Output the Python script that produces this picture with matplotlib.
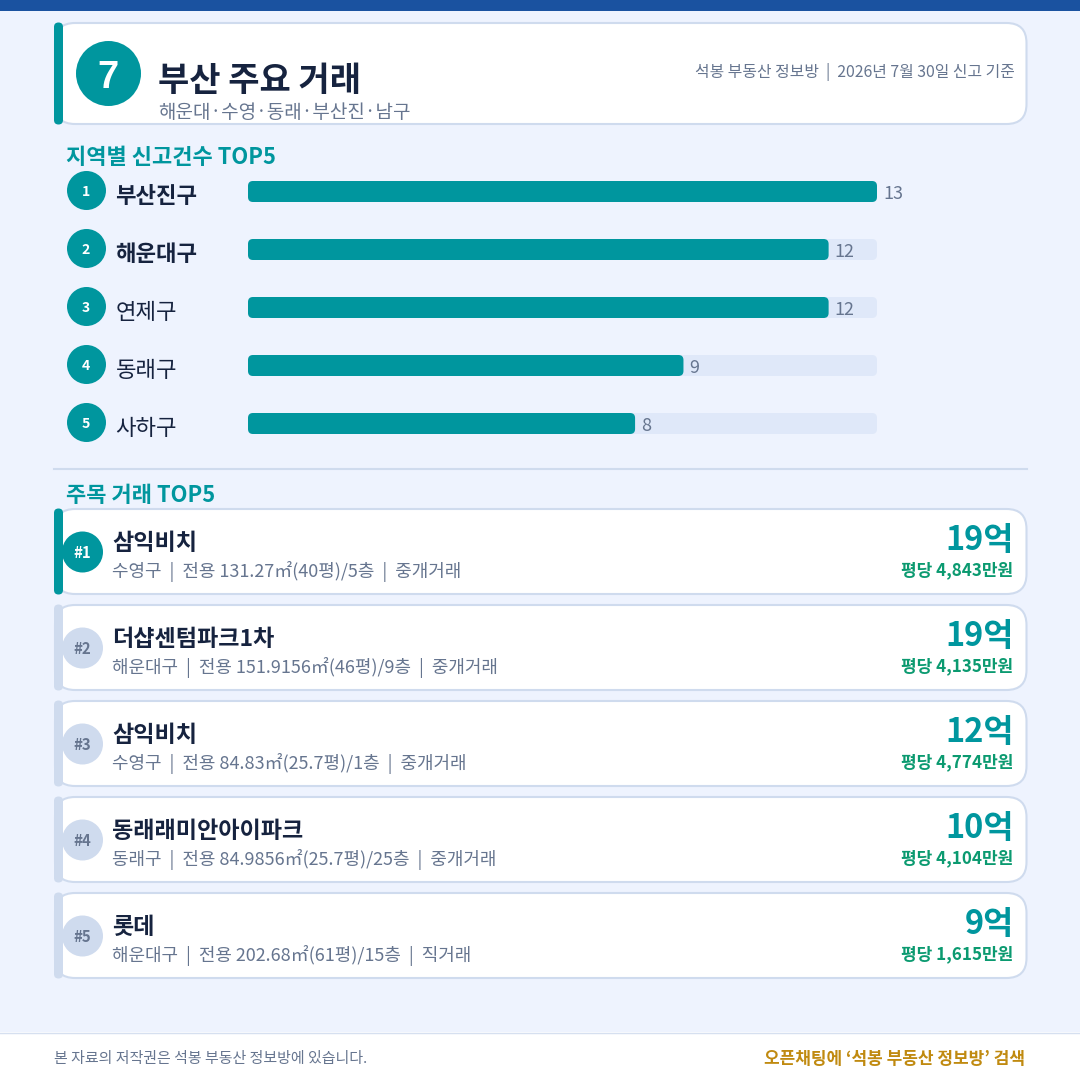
import matplotlib
matplotlib.use("Agg")
import matplotlib.pyplot as plt
from matplotlib.patches import FancyBboxPatch, Circle, Rectangle

plt.rcParams['font.family'] = ['Noto Sans CJK KR', 'DejaVu Sans']

regions = ['부산진구', '해운대구', '연제구', '동래구', '사하구']
counts = [13, 12, 12, 9, 8]
names = ['삼익비치', '더샵센텀파크1차', '삼익비치', '동래래미안아이파크', '롯데']
details = ['수영구  |  전용 131.27㎡(40평)/5층  |  중개거래',
           '해운대구  |  전용 151.9156㎡(46평)/9층  |  중개거래',
           '수영구  |  전용 84.83㎡(25.7평)/1층  |  중개거래',
           '동래구  |  전용 84.9856㎡(25.7평)/25층  |  중개거래',
           '해운대구  |  전용 202.68㎡(61평)/15층  |  직거래']
prices = ['19억', '19억', '12억', '10억', '9억']
unit_prices = ['평당 4,843만원', '평당 4,135만원', '평당 4,774만원', '평당 4,104만원', '평당 1,615만원']

BG = '#eef3fe'; TEAL = '#00969e'; NAVY = '#16233f'; GREY = '#66758f'
BORDER = '#cfdbee'; TRACK = '#dfe8f9'; GREEN = '#0b9a70'; GOLD = '#c08a10'

def px(n):
    return n * 0.72

fig = plt.figure(figsize=(10.8, 10.8), dpi=100, facecolor=BG)
ax = fig.add_axes([0, 0, 1, 1])
ax.set_xlim(0, 1080); ax.set_ylim(1080, 0); ax.axis('off')

def rbox(x0, y0, x1, y1, r, fc, ec='none', lw=0, z=1):
    p = FancyBboxPatch((x0, y0), x1 - x0, y1 - y0, boxstyle=f'round,pad=0,rounding_size={r}',
                       fc=fc, ec=ec, lw=lw, zorder=z)
    ax.add_patch(p)

def txt(x, y, s, size, color, weight='regular', ha='left', z=6):
    ax.text(x, y, s, fontsize=px(size), color=color, fontweight=weight, ha=ha, va='baseline', zorder=z)

def card(y0, y1, accent):
    rbox(55, y0, 1026.5, y1, 20, 'white', BORDER, 1.5, 2)
    rbox(54, y0 - 0.5, 63, y1 + 0.5, 4.5, accent, z=4)

ax.add_patch(Rectangle((0, 0), 1080, 10.5, fc='#1a52a0', ec='none'))

card(23, 124, TEAL)
ax.add_patch(Circle((108.5, 73.5), 32.5, fc=TEAL, zorder=3))
ax.text(107.5, 88, '7', fontsize=px(38), color='white', fontweight='bold', ha='center', va='baseline',
        family=['Liberation Sans', 'DejaVu Sans'], zorder=6)
txt(158, 91, '부산 주요 거래', 34, NAVY, 'bold')
txt(158, 117.5, '해운대·수영·동래·부산진·남구', 19, GREY)
txt(1015, 77, '석봉 부동산 정보방  |  2026년 7월 30일 신고 기준', 15.85, GREY, ha='right')

txt(66, 164, '지역별 신고건수 TOP5', 22, TEAL, 'bold')

# bar chart on its own value scale
bx = fig.add_axes([248 / 1080, 1 - 452.5 / 1080, 629 / 1080, 290 / 1080])
bx.set_xlim(0, max(counts)); bx.set_ylim(len(counts) - 0.5, -0.5); bx.axis('off'); bx.patch.set_alpha(0)
unit_x = 629 / max(counts); unit_y = 58
BAR_H = 21 / 58
for i, (reg, c) in enumerate(zip(regions, counts)):
    for w, col, z in ((max(counts), TRACK, 1), (c, TEAL, 2)):
        bx.add_patch(FancyBboxPatch((0, i - BAR_H / 2), w, BAR_H,
                                    boxstyle=f'round,pad=0,rounding_size={5 / unit_x}',
                                    mutation_aspect=unit_x / unit_y, fc=col, ec='none', zorder=z, clip_on=False))
    bx.annotate(str(c), (c, i), xytext=(4.5, -0.6), textcoords='offset points', fontsize=px(18), color=GREY,
                va='center_baseline', ha='left', zorder=5)
    cy = 190.5 + 58 * i
    ax.add_patch(Circle((86.5, cy), 19.5, fc=TEAL, zorder=3))
    txt(86, cy + 5.5, str(i + 1), 14, 'white', 'bold', ha='center')
    txt(115.5, cy + 12.5, reg, 22.3, NAVY, 'bold' if i < 2 else 'regular')

ax.plot([54, 1027], [469, 469], color=BORDER, lw=1.5, zorder=1)
txt(66, 502, '주목 거래 TOP5', 22, TEAL, 'bold')

for i, (n, d, p, u) in enumerate(zip(names, details, prices, unit_prices)):
    y0 = 509 + 96 * i
    top = i == 0
    card(y0, y0 + 85, TEAL if top else BORDER)
    ax.add_patch(Circle((82.5, y0 + 43), 20.5, fc=TEAL if top else BORDER, zorder=3))
    txt(82, y0 + 49, f'#{i + 1}', 15, 'white' if top else GREY, 'bold', ha='center')
    txt(112, y0 + 41, n, 23.1, NAVY, 'bold')
    txt(112, y0 + 67.5, d, 18, GREY)
    txt(1013.5, y0 + 41, p, 32.7, TEAL, 'bold', ha='right')
    txt(1013.5, y0 + 66, u, 17, GREEN, 'bold', ha='right')

ax.add_patch(Rectangle((0, 1032), 1080, 48, fc='white', ec='none', zorder=1))
ax.plot([0, 1080], [1032.5, 1032.5], color='#d6e0f0', lw=1, zorder=2)
txt(54, 1063, '본 자료의 저작권은 석봉 부동산 정보방에 있습니다.', 15, GREY)
txt(1025.5, 1064, '오픈채팅에 ‘석봉 부동산 정보방’ 검색', 17, GOLD, 'bold', ha='right')

fig.savefig('out.png', dpi=100, facecolor=BG)
